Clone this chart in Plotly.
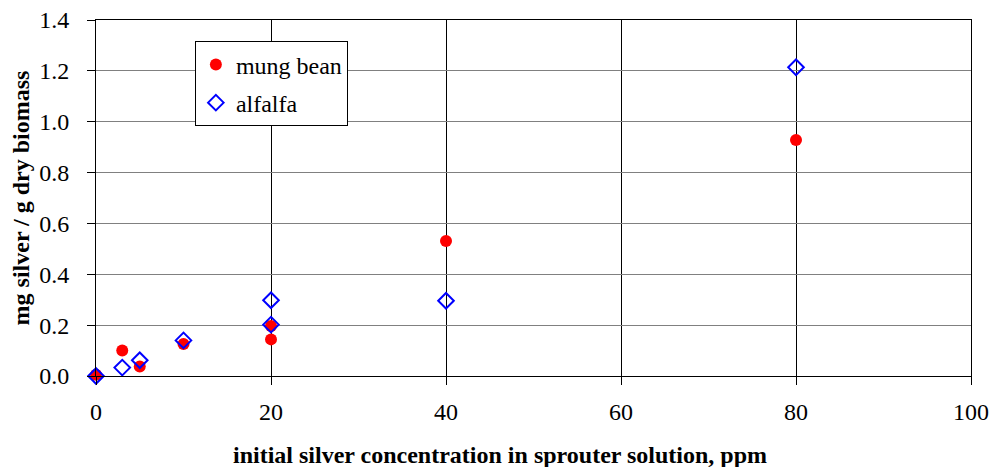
import plotly.graph_objects as go

mung_x = [0, 3, 5, 10, 20, 20, 40, 80]
mung_y = [0.005, 0.10, 0.037, 0.126, 0.197, 0.144, 0.531, 0.928]
alf_x = [0, 3, 5, 10, 20, 20, 40, 80]
alf_y = [0.0, 0.033, 0.062, 0.140, 0.298, 0.202, 0.296, 1.214]

xticks = [0, 20, 40, 60, 80, 100]
yticks = [0.0, 0.2, 0.4, 0.6, 0.8, 1.0, 1.2, 1.4]

font = "'Times New Roman', 'Liberation Serif', serif"
tf = dict(family=font, size=24, color="black")

fig = go.Figure()
fig.add_trace(go.Scatter(x=mung_x, y=mung_y, mode="markers", name="mung bean",
                         legendgroup="a",
                         marker=dict(symbol="circle", size=12, color="#ff0000"),
                         cliponaxis=False))
fig.add_trace(go.Scatter(x=alf_x, y=alf_y, mode="markers", name="alfalfa",
                         legendgroup="b",
                         marker=dict(symbol="diamond-open", size=12, color="#0000ff",
                                     line=dict(width=2, color="#0000ff")),
                         cliponaxis=False))

fig.add_annotation(text="<b>initial silver concentration in sprouter solution, ppm</b>",
                   xref="paper", yref="paper", x=0.4617, y=-0.222,
                   xanchor="center", yanchor="middle", showarrow=False,
                   font=dict(family=font, size=24, color="black"))

fig.update_layout(
    width=993, height=467,
    margin=dict(l=96, r=22, t=20, b=91),
    paper_bgcolor="white", plot_bgcolor="white",
    font=dict(family=font, size=24, color="black"),
    showlegend=True,
    legend=dict(x=0.113, y=0.94, xanchor="left", yanchor="top",
                bgcolor="white", bordercolor="black", borderwidth=1,
                font=dict(family=font, size=24, color="black"), itemsizing="constant",
                tracegroupgap=4, itemwidth=30),
    xaxis=dict(range=[0, 100], tickvals=xticks, ticktext=[str(v) for v in xticks],
               tickfont=tf, automargin=False, ticklabelstandoff=6,
               showgrid=True, gridcolor="black", gridwidth=1,
               showline=True, linecolor="black", linewidth=1, mirror=True,
               ticks="outside", ticklen=8, tickcolor="black",
               zeroline=False),
    yaxis=dict(range=[0, 1.4], tickvals=yticks, ticktext=[f"{v:.1f}" for v in yticks],
               tickfont=tf, automargin=False, ticklabelstandoff=13,
               showgrid=True, gridcolor="#808080", gridwidth=1,
               showline=True, linecolor="black", linewidth=1, mirror=True,
               ticks="outside", ticklen=8, tickcolor="black",
               zeroline=False,
               title=dict(text="<b>mg silver / g dry biomass</b>",
                          font=dict(family=font, size=24, color="black"), standoff=2)),
)

fig.write_html("out.html")
